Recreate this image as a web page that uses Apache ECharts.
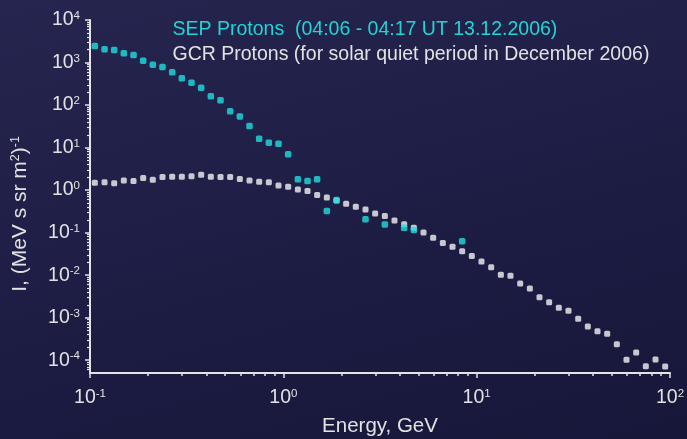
<!DOCTYPE html>
<html><head><meta charset="utf-8">
<script src="https://cdn.jsdelivr.net/npm/echarts@6/dist/echarts.min.js"></script>
<style>
html,body{margin:0;padding:0;width:687px;height:439px;overflow:hidden;background:#1c1c42;}
#c{width:687px;height:439px;background:linear-gradient(165deg,#25254f 0%,#1e1e46 45%,#17173a 100%);}
</style></head><body><div id="c"></div>
<script>
// ---- data ----
const energies = [
  0.1059, 0.1189, 0.1334, 0.1496, 0.1679, 0.1884, 0.2113, 0.2371, 0.2661, 0.2985,
  0.3350, 0.3758, 0.4217, 0.4732, 0.5309, 0.5957, 0.6683, 0.7499, 0.8414, 0.9441,
  1.059, 1.189, 1.334, 1.496, 1.679, 1.884, 2.113, 2.371, 2.661, 2.985,
  3.350, 3.758, 4.217, 4.732, 5.309, 5.957, 6.683, 7.499, 8.414, 9.441,
  10.59, 11.89, 13.34, 14.96, 16.79, 18.84, 21.13, 23.71, 26.61, 29.85,
  33.50, 37.58, 42.17, 47.32, 53.09, 59.57, 66.83, 74.99, 84.14, 94.41
];
const gcrFlux = [
  1.49, 1.54, 1.44, 1.69, 1.63, 1.92, 1.75, 2.02, 2.06, 2.06,
  2.13, 2.29, 2.06, 2.02, 2.02, 1.82, 1.69, 1.57, 1.54, 1.29,
  1.20, 1.04, 0.95, 0.77, 0.673, 0.57, 0.477, 0.405, 0.351, 0.283,
  0.245, 0.194, 0.158, 0.13, 0.101, 0.0755, 0.0567, 0.0464, 0.0367, 0.0283,
  0.0210, 0.0154, 0.0102, 0.00964, 0.00638, 0.00487, 0.00304, 0.00232, 0.00170, 0.00145,
  0.000938, 0.000621, 0.000481, 0.000416, 0.000238, 0.000102, 0.000152, 0.0000723, 0.000104, 0.0000711
];
const sepEnergies = [
  0.1059, 0.1189, 0.1334, 0.1496, 0.1679, 0.1884, 0.2113, 0.2371, 0.2661, 0.2985,
  0.3350, 0.3758, 0.4217, 0.4732, 0.5309, 0.5957, 0.6683, 0.7499, 0.8414, 0.9441,
  1.059, 1.189, 1.334, 1.496, 1.679, 1.884, 2.661, 3.350, 4.217, 4.732, 8.414
];
const sepFlux = [
  2445, 2046, 1968, 1645, 1500, 1102, 887, 783, 588, 425,
  335, 255, 160, 129, 71, 54, 32, 16.1, 13.0, 12.3,
  6.92, 1.79, 1.63, 1.79, 0.321, 0.582, 0.205, 0.156, 0.130, 0.116, 0.0631
];
const xMajorTicks = [0.1, 1, 10, 100];
const yMajorTicks = [1e-4, 1e-3, 1e-2, 1e-1, 1, 10, 100, 1000, 10000];
const xDecades = [0.1, 1, 10];
const yDecades = [1e-4, 1e-3, 1e-2, 1e-1, 1, 10, 100, 1000];
const minorMultipliers = [2, 3, 4, 5, 6, 7, 8, 9];
const yBelowMinor = [6e-5, 7e-5, 8e-5, 9e-5];
const sepTitle = 'SEP Protons  (04:06 - 04:17 UT 13.12.2006)';
const gcrTitle = 'GCR Protons (for solar quiet period in December 2006)';
const xName = 'Energy, GeV';
const yNameParts = ['I, (MeV s sr m', '2', ')', '-1'];

// ---- build ----
const xMinorTicks = [];
xDecades.forEach(d => minorMultipliers.forEach(m => xMinorTicks.push(+(d * m).toPrecision(3))));
const yMinorTicks = yBelowMinor.slice();
yDecades.forEach(d => minorMultipliers.forEach(m => yMinorTicks.push(+(d * m).toPrecision(3))));

const AX = '#e4e4e4';
const TXT = '#e2e2e2';
const FONT = '"Liberation Sans", Arial, sans-serif';
const labelRich = {
  a: { fontSize: 19.5, fontFamily: FONT, color: TXT, lineHeight: 20 },
  s: { fontSize: 11.5, fontFamily: FONT, color: TXT, lineHeight: 12, verticalAlign: 'top' }
};
const powFmt = v => '{a|10}{s|' + Math.round(Math.log10(v)) + '}';

const chart = echarts.init(document.getElementById('c'), null, { renderer: 'canvas' });
chart.setOption({
  backgroundColor: 'transparent',
  animation: false,
  grid: { left: 90, right: 17, top: 20, bottom: 66, outerBoundsMode: 'none' },
  xAxis: [
    {
      type: 'log', min: 0.1, max: 100, position: 'bottom',
      axisLine: { lineStyle: { color: AX, width: 2 } },
      axisTick: { customValues: xMajorTicks, length: 5, lineStyle: { color: AX, width: 1.5 } },
      axisLabel: { customValues: xMajorTicks, formatter: powFmt, rich: labelRich, margin: 15 },
      splitLine: { show: false },
      name: xName, nameLocation: 'middle', nameGap: 43,
      nameTextStyle: { fontSize: 20.5, fontFamily: FONT, color: TXT }
    },
    {
      type: 'log', min: 0.1, max: 100, position: 'bottom',
      axisLine: { show: false },
      axisTick: { customValues: xMinorTicks, length: 3, lineStyle: { color: AX, width: 1.5 } },
      axisLabel: { show: false },
      splitLine: { show: false }
    }
  ],
  yAxis: [
    {
      type: 'log', min: 5e-5, max: 1e4, position: 'left',
      axisLine: { lineStyle: { color: AX, width: 2 } },
      axisTick: { customValues: yMajorTicks, length: 5, lineStyle: { color: AX, width: 1.5 } },
      axisLabel: { customValues: yMajorTicks, formatter: powFmt, rich: labelRich, margin: 10 },
      splitLine: { show: false }
    },
    {
      type: 'log', min: 5e-5, max: 1e4, position: 'left',
      axisLine: { show: false },
      axisTick: { customValues: yMinorTicks, length: 3, lineStyle: { color: AX, width: 1.2 } },
      axisLabel: { show: false },
      splitLine: { show: false }
    }
  ],
  graphic: [
    {
      type: 'text', x: 172.5, y: 29.5,
      style: { text: sepTitle, fill: '#22d4d4', fontSize: 19.5, fontFamily: FONT, verticalAlign: 'middle', align: 'left' }
    },
    {
      type: 'text', x: 172.5, y: 54.7,
      style: { text: gcrTitle, fill: TXT, fontSize: 19.5, fontFamily: FONT, verticalAlign: 'middle', align: 'left' }
    },
    {
      type: 'text', x: 20, y: 214, rotation: Math.PI / 2,
      style: {
        text: '{a|' + yNameParts[0] + '}{s|' + yNameParts[1] + '}{a|' + yNameParts[2] + '}{s|' + yNameParts[3] + '}',
        rich: {
          a: { fontSize: 21, fontFamily: FONT, fill: TXT, lineHeight: 22 },
          s: { fontSize: 12.5, fontFamily: FONT, fill: TXT, lineHeight: 12, verticalAlign: 'top' }
        },
        align: 'center', verticalAlign: 'middle'
      }
    }
  ],
  series: [
    {
      type: 'scatter', name: 'GCR', xAxisIndex: 0, yAxisIndex: 0,
      symbol: 'roundRect', symbolSize: 6,
      itemStyle: { color: '#f2f2f2' },
      data: energies.map((e, i) => [e, gcrFlux[i]])
    },
    {
      type: 'scatter', name: 'SEP', xAxisIndex: 0, yAxisIndex: 0,
      symbol: 'roundRect', symbolSize: 6.5,
      itemStyle: { color: '#1fdede' },
      data: sepEnergies.map((e, i) => [e, sepFlux[i]])
    }
  ]
});
</script></body></html>
